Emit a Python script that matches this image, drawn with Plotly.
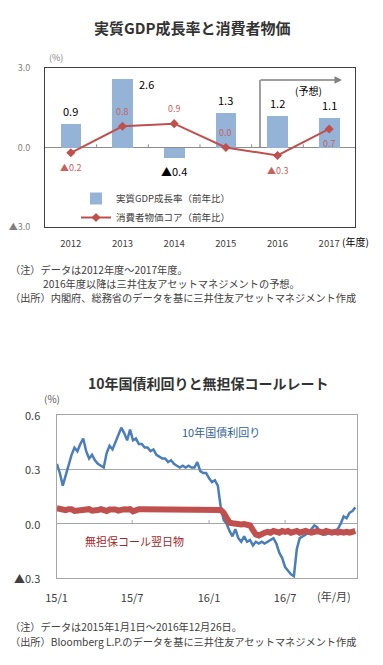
import plotly.graph_objects as go
import pandas as pd

W, H = 383, 665
def px(x): return x / W
def py(y): return 1 - y / H

FONT = "Noto Sans CJK JP"

# ---------------- Chart 1 data ----------------
years = ["2012", "2013", "2014", "2015", "2016", "2017"]
gdp = [0.9, 2.6, -0.4, 1.3, 1.2, 1.1]
cpi_core = [-0.2, 0.8, 0.9, 0.0, -0.3, 0.7]
y1_ticks = [-3.0, 0.0, 3.0]
y1_ticktext = ["▲3.0", "0.0", "3.0"]

# ---------------- Chart 2 data (weekly readings) ----------------
week_dates = pd.date_range("2015-01-02", periods=103, freq="7D")
jgb10y = [0.33, 0.28, 0.21, 0.27, 0.33, 0.38, 0.42, 0.40, 0.44, 0.47,
          0.40, 0.36, 0.38, 0.35, 0.33, 0.32, 0.31, 0.39, 0.43, 0.41,
          0.45, 0.48, 0.53, 0.50, 0.46, 0.52, 0.46, 0.47, 0.44, 0.44,
          0.42, 0.42, 0.40, 0.41, 0.38, 0.37, 0.36, 0.36, 0.34, 0.35,
          0.33, 0.32, 0.31, 0.32, 0.31, 0.32, 0.31, 0.31, 0.34, 0.29,
          0.28, 0.28, 0.25, 0.23, 0.24, 0.21, 0.09, 0.02, 0.00, -0.04,
          -0.07, -0.03, -0.08, -0.10, -0.07, -0.10, -0.09, -0.12, -0.10, -0.11,
          -0.10, -0.11, -0.10, -0.09, -0.08, -0.11, -0.16, -0.19, -0.24, -0.26,
          -0.28, -0.29, -0.14, -0.08, -0.07, -0.06, -0.05, -0.03, -0.01, -0.02,
          -0.05, -0.06, -0.06, -0.05, -0.05, -0.04, -0.03, 0.00, 0.04, 0.03,
          0.06, 0.07, 0.09]
call_rate = [0.085, 0.080, 0.080, 0.075, 0.080, 0.080,
             0.070, 0.072, 0.080, 0.080, 0.078, 0.080,
             0.072, 0.070, 0.075, 0.080, 0.078, 0.070,
             0.078, 0.080, 0.078, 0.072, 0.080, 0.080,
             0.078, 0.080, 0.068, 0.078, 0.080, 0.080,
             0.080, 0.078, 0.080, 0.080, 0.078, 0.072,
             0.080, 0.080, 0.078, 0.080, 0.078, 0.072,
             0.080, 0.080, 0.078, 0.080, 0.080, 0.078,
             0.080, 0.078, 0.080, 0.076, 0.080, 0.078,
             0.080, 0.078, 0.076, 0.060, 0.030, 0.005,
             0.002, -0.003, 0.000, -0.005, -0.002, -0.008,
             -0.010, -0.035, -0.060, -0.065, -0.055, -0.050,
             -0.045, -0.050, -0.040, -0.045, -0.050, -0.040,
             -0.045, -0.040, -0.050, -0.045, -0.040, -0.050,
             -0.045, -0.040, -0.045, -0.050, -0.045, -0.040,
             -0.045, -0.050, -0.040, -0.045, -0.050, -0.045,
             -0.050, -0.045, -0.050, -0.045, -0.050, -0.045,
             -0.040]
x2_ticks = ["2015-01-01", "2015-07-01", "2016-01-01", "2016-07-01"]
x2_ticktext = ["15/1", "15/7", "16/1", "16/7"]
y2_ticks = [-0.3, 0.0, 0.3, 0.6]
y2_ticktext = ["▲0.3", "0.0", "0.3", "0.6"]

BAR_C = "#95b3d7"
CPI_C = "#c0504d"
JGB_C = "#4a7ebb"
CALL_C = "#c0504d"
TXT = "#404040"

def fmt(v):
    return f"▲{abs(v):.1f}" if v < 0 else f"{v:.1f}"

fig = go.Figure()

fig.add_trace(go.Bar(x=years, y=gdp, name="実質GDP成長率（前年比）",
                     marker=dict(color=BAR_C, line=dict(width=0)), width=0.4,
                     xaxis="x", yaxis="y"))
fig.add_trace(go.Scatter(x=years, y=cpi_core, name="消費者物価コア（前年比）",
                         mode="lines+markers",
                         line=dict(color=CPI_C, width=2),
                         marker=dict(symbol="diamond", size=7, color=CPI_C),
                         xaxis="x", yaxis="y"))

fig.add_trace(go.Scatter(x=week_dates, y=jgb10y, mode="lines",
                         line=dict(color=JGB_C, width=2.5), showlegend=False,
                         xaxis="x2", yaxis="y2"))
fig.add_trace(go.Scatter(x=week_dates, y=call_rate, mode="lines",
                         line=dict(color=CALL_C, width=6), showlegend=False,
                         xaxis="x2", yaxis="y2"))

ann = []
# bar labels
for i, v in enumerate(gdp):
    if v > 2:
        xs, ys = 24, -5
    else:
        xs, ys = 0, (13 if v >= 0 else -13)
    ann.append(dict(x=i, y=v, xref="x", yref="y", text=fmt(v),
                    xanchor="center", yanchor="middle",
                    showarrow=False, xshift=xs, yshift=ys,
                    font=dict(size=11, color="#000000", family=FONT)))
# cpi labels
for i, v in enumerate(cpi_core):
    below = v < 0 or i == len(cpi_core) - 1
    ann.append(dict(x=i, y=v, xref="x", yref="y", text=fmt(v),
                    xanchor="center", yanchor="middle",
                    showarrow=False, yshift=-15 if below else 15,
                    font=dict(size=9, color="#c9605d", family=FONT)))

# y2 tick labels
for v, t in zip(y2_ticks, y2_ticktext):
    ann.append(dict(x=px(42), y=v, xref="paper", yref="y2", text=t,
                    xanchor="right", yanchor="middle", showarrow=False,
                    font=dict(size=11, color=TXT, family=FONT)))

# forecast arrow
ann.append(dict(x=0.958, y=0.9245, xref="x domain", yref="y domain", text="",
                showarrow=True, ax=-83, ay=0, arrowhead=2, arrowsize=1,
                arrowwidth=1.5, arrowcolor="#808080"))

def T(x, y, text, size, color, anchor="center"):
    return dict(x=px(x), y=py(y), xref="paper", yref="paper", text=text,
                showarrow=False, xanchor=anchor, yanchor="middle",
                font=dict(size=size, color=color, family=FONT))

ann += [
    T(308, 91, "(予想)", 10, "#000000"),
    T(192, 27, "<b>実質GDP成長率と消費者物価</b>", 15, "#333333"),
    T(55.5, 57, "(%)", 9, "#7f7f7f"),
    T(340, 241, "(年度)", 10, "#000000", "left"),
    T(8, 269, "（注）データは2012年度～2017年度。", 10.2, TXT, "left"),
    T(41, 283, "2016年度以降は三井住友アセットマネジメントの予想。", 10.2, TXT, "left"),
    T(8, 297, "（出所）内閣府、総務省のデータを基に三井住友アセットマネジメント作成", 10.2, TXT, "left"),
    T(209, 383, "<b>10年国債利回りと無担保コールレート</b>", 14, "#333333"),
    T(52, 398, "(%)", 10, "#595959"),
    T(221, 432, "10年国債利回り", 11, "#2f5f9a"),
    T(134.5, 541, "無担保コール翌日物", 11, "#a0282a"),
    T(334, 596, "(年/月)", 11, TXT),
    T(8, 626, "（注）データは2015年1月1日～2016年12月26日。", 10.2, TXT, "left"),
    T(8, 641, "（出所）Bloomberg L.P.のデータを基に三井住友アセットマネジメント作成", 10.2, TXT, "left"),
]

shapes = [
    dict(type="line", xref="x domain", yref="y domain", x0=0.6935, x1=0.6935,
         y0=0.5, y1=0.9245, line=dict(color="#808080", width=1.5)),
]
for i in range(len(years) - 1):
    shapes.append(dict(type="line", xref="x", yref="y", x0=i + 0.5, x1=i + 0.5,
                       y0=0, y1=0.12, line=dict(color="#8c8c8c", width=1)))
for d in x2_ticks[1:]:
    shapes.append(dict(type="line", xref="x2", yref="y2", x0=d, x1=d,
                       y0=0, y1=0.02, line=dict(color="#a6a6a6", width=1)))

fig.update_layout(
    width=W, height=H, autosize=False,
    margin=dict(l=0, r=0, t=0, b=0, pad=0),
    paper_bgcolor="white", plot_bgcolor="white",
    font=dict(family=FONT, color=TXT),
    showlegend=True,
    legend=dict(x=px(76), y=py(184), xanchor="left", yanchor="top",
                bgcolor="rgba(0,0,0,0)", font=dict(size=9.5, color=TXT, family=FONT),
                itemwidth=30, tracegroupgap=0),
    bargap=0,
    xaxis=dict(domain=[px(45), px(355)], anchor="y", type="category", automargin=False,
               range=[-0.5, 5.5], showline=True, mirror=True, linecolor="#404040",
               linewidth=1, showgrid=False, ticks="", ticklabelstandoff=8,
               tickfont=dict(size=9.5, color=TXT, family=FONT), fixedrange=True),
    yaxis=dict(domain=[py(227), py(68)], anchor="x", range=[-3, 3], automargin=False,
               tickvals=y1_ticks, ticktext=y1_ticktext, showline=True, mirror=True,
               linecolor="#404040", linewidth=1, showgrid=False,
               zeroline=True, zerolinecolor="#8c8c8c", zerolinewidth=1,
               ticks="", ticklabelstandoff=12,
               tickfont=dict(size=9, color="#7f7f7f", family=FONT)),
    xaxis2=dict(domain=[px(56.5), px(357)], anchor="y2", type="date", automargin=False,
                range=["2015-01-01", "2016-12-20"], tickvals=x2_ticks,
                ticktext=x2_ticktext, showline=True, mirror=True,
                linecolor="#a6a6a6", linewidth=1, showgrid=False, ticks="",
                ticklabelstandoff=10, tickfont=dict(size=11, color=TXT, family=FONT)),
    yaxis2=dict(domain=[py(578), py(415)], anchor="x2", range=[-0.3, 0.6], automargin=False,
                tickvals=y2_ticks, showticklabels=False, showline=True, mirror=True,
                linecolor="#a6a6a6", linewidth=1, showgrid=True, gridcolor="#a6a6a6",
                zeroline=False, ticks=""),
    annotations=ann,
    shapes=shapes,
)

fig.write_html("out.html", config={"displayModeBar": False},
               post_script="document.body.style.margin='0';document.body.style.overflow='hidden';")
